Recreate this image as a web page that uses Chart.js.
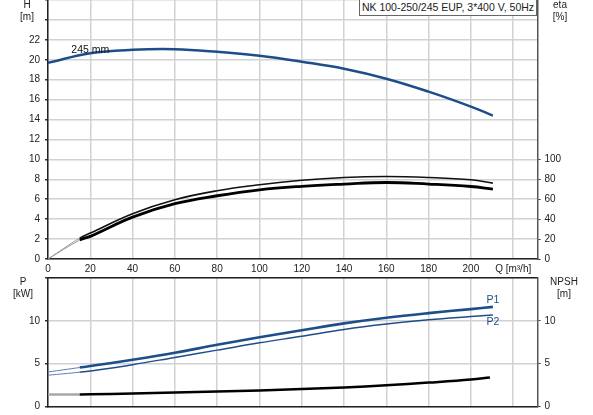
<!DOCTYPE html>
<html>
<head>
<meta charset="utf-8">
<script src="https://cdn.jsdelivr.net/npm/chart.js@4.4.1/dist/chart.umd.min.js"></script>
<style>
body { margin: 0; background: #fff; font-family: "Liberation Sans", Arial, sans-serif; color: #222; }
#wrap { position: relative; width: 593px; height: 415px; overflow: hidden; }
canvas { position: absolute; left: 0; }
#top { top: 0; }
#bottom { top: 270px; }
.axt { position: absolute; width: 44px; font-size: 10px; line-height: 12px; text-align: center; }
#title { position: absolute; left: 359px; top: -1px; width: 178px; height: 17px; box-sizing: border-box;
  border: 1px solid #666; background: #fff; font-size: 10.5px; line-height: 15px; text-align: center; white-space: nowrap; }
</style>
</head>
<body>
<div id="wrap">
  <canvas id="top" width="593" height="280"></canvas>
  <canvas id="bottom" width="593" height="145"></canvas>
  <div class="axt" style="left:5px;top:-1px">H<br>[m]</div>
  <div class="axt" style="left:538px;top:-1px">eta<br>[%]</div>
  <div class="axt" style="left:1px;top:276px">P<br>[kW]</div>
  <div class="axt" style="left:542px;top:276px">NPSH<br>[m]</div>
  <div id="title">NK 100-250/245 EUP, 3*400 V, 50Hz</div>
</div>
<script>
// pump curve, impeller 245 mm
const flowQ = [0, 20, 40, 60, 80, 100, 120, 140, 160, 180, 200, 210.4];
const headH = [19.7, 20.66, 21.0, 21.06, 20.8, 20.4, 19.8, 19.1, 18.1, 16.8, 15.3, 14.4];

// efficiency [%]
const etaQ = [0, 15, 20, 40, 60, 80, 100, 120, 140, 160, 180, 200, 210.4];
const etaUpper = [0, 21, 26, 45.5, 59.5, 68.5, 74.5, 79, 81.8, 82.8, 81.8, 79.5, 76.2];
const etaLower = [0, 19, 22.7, 42, 55.5, 63.5, 69.5, 73, 75.2, 76.8, 75.2, 72.8, 70.2];

// power [kW]
const powerQ = [0, 15, 20, 40, 60, 80, 100, 120, 140, 160, 180, 200, 210.4];
const powerP1 = [4.03, 4.55, 4.72, 5.46, 6.27, 7.2, 8.08, 8.9, 9.7, 10.36, 10.9, 11.37, 11.63];
const powerP2 = [3.65, 4.0, 4.14, 4.88, 5.73, 6.58, 7.43, 8.2, 9.0, 9.63, 10.13, 10.5, 10.67];

// NPSH [m]
const npshQ = [0, 15, 20, 40, 60, 80, 100, 120, 140, 160, 180, 200, 209];
const npshM = [1.41, 1.41, 1.42, 1.52, 1.64, 1.75, 1.87, 2.03, 2.22, 2.48, 2.79, 3.14, 3.38];

const qMax = 231.5;
const qLabelAt = 220;
const qStart = 15;

const BLUE = "#1d4e89";
const GRID = "#d2d2d2";
const TXT = "#222";
const FONT = { family: '"Liberation Sans", Arial, sans-serif', size: 10 };

const pts = (xs, ys) => xs.map((x, i) => ({ x, y: ys[i] }));

// thin grey lead-in before the operating range starts
const lead = (color, width) => ({
    borderColor: c => c.p0.parsed.x < qStart ? "#9a9a9a" : color,
    borderWidth: c => c.p0.parsed.x < qStart ? 1 : width
});
const leadBlue = (width) => ({
    borderColor: c => c.p0.parsed.x < qStart ? "#5b7fae" : BLUE,
    borderWidth: c => c.p0.parsed.x < qStart ? 1 : width
});

function fixWidth(w) {
    return s => { s.width = w; s.paddingTop = 0; s.paddingBottom = 0; };
}
function fixHeight(h) {
    return s => { s.height = h; s.paddingLeft = 0; s.paddingRight = 0; };
}

const curveLabels = {
    id: "curveLabels",
    afterDatasetsDraw(chart, args, opts) {
        const ctx = chart.ctx;
        ctx.save();
        ctx.font = '10.5px "Liberation Sans", Arial, sans-serif';
        ctx.textAlign = "center";
        ctx.textBaseline = "middle";
        (opts.items || []).forEach(it => {
            const x = chart.scales.x.getPixelForValue(it.q);
            const y = chart.scales[it.axis].getPixelForValue(it.v);
            ctx.fillStyle = it.color;
            ctx.fillText(it.text, x, y + it.dy);
        });
        ctx.restore();
    }
};

const common = {
    responsive: false,
    animation: false,
    events: [],
    layout: { padding: 0 },
    elements: { point: { radius: 0 }, line: { tension: 0.4 } }
};

const xTicks = {
    stepSize: 20, includeBounds: false, padding: 4, color: TXT, font: FONT,
    maxRotation: 0, autoSkip: false,
    callback: v => v === qLabelAt ? "Q [m³/h]" : v
};

new Chart(document.getElementById("top"), {
    type: "line",
    data: {
        datasets: [
            { data: pts(flowQ, headH), borderColor: BLUE, borderWidth: 2.5, yAxisID: "y" },
            { data: pts(etaQ, etaUpper), borderColor: "#111", segment: lead("#111", 1.6), yAxisID: "y2" },
            { data: pts(etaQ, etaLower), borderColor: "#000", segment: lead("#000", 2.8), yAxisID: "y2" }
        ]
    },
    options: {
        ...common,
        plugins: {
            legend: { display: false }, tooltip: { enabled: false },
            curveLabels: { items: [{ text: "245 mm", q: 20, v: headH[flowQ.indexOf(20)], axis: "y", dy: -3, color: "#111" }] }
        },
        scales: {
            x: {
                type: "linear", min: 0, max: qMax, afterFit: fixHeight(21),
                ticks: xTicks,
                grid: { color: GRID, lineWidth: 1.5, drawTicks: false },
                border: { color: "#222", width: 1.5 }
            },
            y: {
                position: "left", min: 0, max: 26, afterFit: fixWidth(48),
                ticks: { stepSize: 2, padding: 5, color: TXT, font: FONT, callback: v => v <= 22 ? v : "" },
                grid: { color: GRID, lineWidth: 1.5, tickLength: 3, tickColor: "#333" },
                border: { color: "#222", width: 1.5 }
            },
            y2: {
                position: "right", min: 0, max: 260, afterFit: fixWidth(55.5),
                ticks: { stepSize: 20, padding: 4, color: TXT, font: FONT, callback: v => v <= 100 ? v : "" },
                grid: { drawOnChartArea: false, tickLength: 3, tickColor: c => c.tick && c.tick.value <= 100 ? "#333" : "rgba(0,0,0,0)" },
                border: { color: "#555", width: 1.5 }
            }
        }
    },
    plugins: [curveLabels]
});

new Chart(document.getElementById("bottom"), {
    type: "line",
    data: {
        datasets: [
            { data: pts(powerQ, powerP1), borderColor: BLUE, segment: leadBlue(2.6), yAxisID: "y" },
            { data: pts(powerQ, powerP2), borderColor: BLUE, segment: leadBlue(1.5), yAxisID: "y" },
            { data: pts(npshQ, npshM), borderColor: "#000", segment: {
                borderColor: c => c.p0.parsed.x < qStart ? "#a8a8a8" : "#000"
              }, borderWidth: 2.5, yAxisID: "y2" }
        ]
    },
    options: {
        ...common,
        layout: { padding: { top: 8 } },
        plugins: {
            legend: { display: false }, tooltip: { enabled: false },
            curveLabels: {
                items: [
                    { text: "P1", q: powerQ[powerQ.length - 1], v: powerP1[powerP1.length - 1], axis: "y", dy: -7, color: BLUE },
                    { text: "P2", q: powerQ[powerQ.length - 1], v: powerP2[powerP2.length - 1], axis: "y", dy: 7, color: BLUE }
                ]
            }
        },
        scales: {
            x: {
                type: "linear", min: 0, max: qMax, afterFit: fixHeight(8.5),
                ticks: { display: false, stepSize: 20, includeBounds: false },
                grid: { color: GRID, lineWidth: 1.5, drawTicks: false },
                border: { color: "#222", width: 1.5 }
            },
            xt: {
                type: "linear", position: "top", min: 0, max: 1, afterFit: fixHeight(0),
                ticks: { display: false },
                grid: { display: false, drawTicks: false },
                border: { color: "#222", width: 1.5 }
            },
            y: {
                position: "left", min: 0, max: 15, afterFit: fixWidth(48),
                ticks: { stepSize: 5, padding: 5, color: TXT, font: FONT, callback: v => v <= 10 ? v : "" },
                grid: { color: GRID, lineWidth: 1.5, tickLength: 3, tickColor: "#333" },
                border: { color: "#222", width: 1.5 }
            },
            y2: {
                position: "right", min: 0, max: 15, afterFit: fixWidth(55.5),
                ticks: { stepSize: 5, padding: 4, color: TXT, font: FONT, callback: v => v <= 10 ? v : "" },
                grid: { drawOnChartArea: false, tickLength: 3, tickColor: c => c.tick && c.tick.value <= 10 ? "#333" : "rgba(0,0,0,0)" },
                border: { color: "#555", width: 1.5 }
            }
        }
    },
    plugins: [curveLabels]
});
</script>
</body>
</html>
